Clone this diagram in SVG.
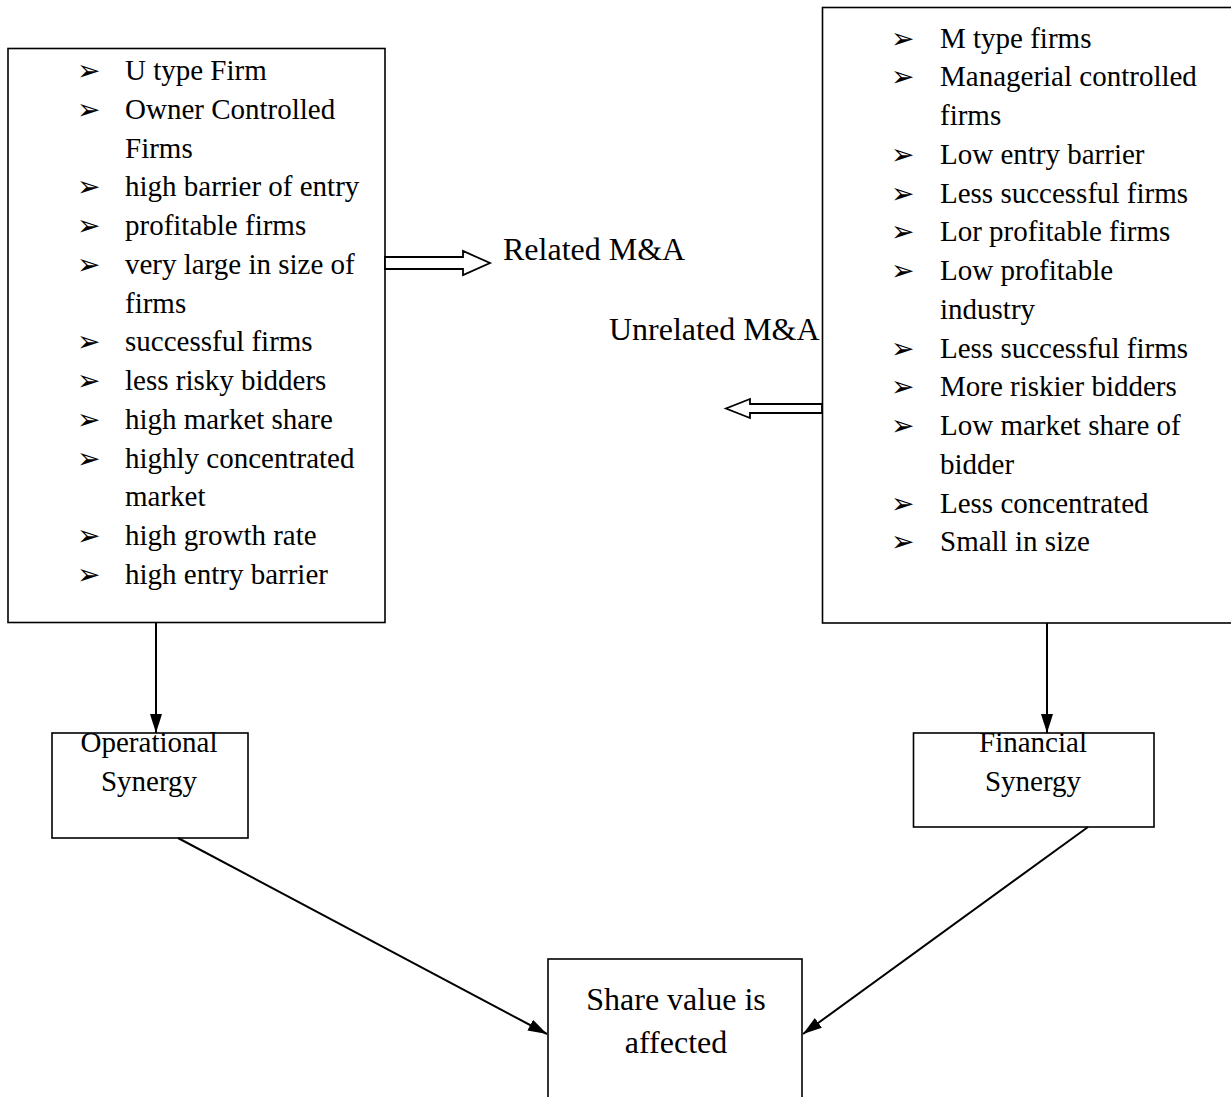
<svg xmlns="http://www.w3.org/2000/svg" width="1231" height="1097" viewBox="0 0 1231 1097">
<style>
  .box { fill: #fff; stroke: #000; stroke-width: 1.6; }
  .t { font-family: "Liberation Serif", "Times New Roman", serif; font-size: 29px; fill: #000; }
  .l { font-size: 32px; }
  .c { text-anchor: middle; }
  .b { font-family: "DejaVu Sans", sans-serif; font-size: 28px; fill: #000; }
  .conn { stroke: #000; stroke-width: 2; fill: none; }
  .hollow { fill: #fff; stroke: #000; stroke-width: 1.8; stroke-linejoin: miter; }
</style>
<defs>
  <marker id="ah" markerUnits="userSpaceOnUse" markerWidth="20" markerHeight="16" viewBox="0 0 20 16" refX="19" refY="8" orient="auto">
    <path d="M0,2 L19,8 L0,14 Z" fill="#000"/>
  </marker>
</defs>

<g id="left-box">
  <rect class="box" x="8" y="48.5" width="377" height="574"/>
  <g class="b">
    <text x="77" y="80">➢</text>
    <text x="77" y="118.75">➢</text>
    <text x="77" y="196.25">➢</text>
    <text x="77" y="235">➢</text>
    <text x="77" y="273.75">➢</text>
    <text x="77" y="351.25">➢</text>
    <text x="77" y="390">➢</text>
    <text x="77" y="428.75">➢</text>
    <text x="77" y="467.5">➢</text>
    <text x="77" y="545">➢</text>
    <text x="77" y="583.75">➢</text>
  </g>
  <g class="t">
    <text x="125" y="80">U type Firm</text>
    <text x="125" y="118.75">Owner Controlled</text>
    <text x="125" y="157.5">Firms</text>
    <text x="125" y="196.25">high barrier of entry</text>
    <text x="125" y="235">profitable firms</text>
    <text x="125" y="273.75">very large in size of</text>
    <text x="125" y="312.5">firms</text>
    <text x="125" y="351.25">successful firms</text>
    <text x="125" y="390">less risky bidders</text>
    <text x="125" y="428.75">high market share</text>
    <text x="125" y="467.5">highly concentrated</text>
    <text x="125" y="506.25">market</text>
    <text x="125" y="545">high growth rate</text>
    <text x="125" y="583.75">high entry barrier</text>
  </g>
</g>

<g id="right-box">
  <rect class="box" x="822.5" y="7.5" width="420" height="615.5"/>
  <g class="b">
    <text x="891" y="47.5">➢</text>
    <text x="891" y="86.25">➢</text>
    <text x="891" y="163.75">➢</text>
    <text x="891" y="202.5">➢</text>
    <text x="891" y="241.25">➢</text>
    <text x="891" y="280">➢</text>
    <text x="891" y="357.5">➢</text>
    <text x="891" y="396.25">➢</text>
    <text x="891" y="435">➢</text>
    <text x="891" y="512.5">➢</text>
    <text x="891" y="551.25">➢</text>
  </g>
  <g class="t">
    <text x="940" y="47.5">M type firms</text>
    <text x="940" y="86.25">Managerial controlled</text>
    <text x="940" y="125">firms</text>
    <text x="940" y="163.75">Low entry barrier</text>
    <text x="940" y="202.5">Less successful firms</text>
    <text x="940" y="241.25">Lor profitable firms</text>
    <text x="940" y="280">Low profitable</text>
    <text x="940" y="318.75">industry</text>
    <text x="940" y="357.5">Less successful firms</text>
    <text x="940" y="396.25">More riskier bidders</text>
    <text x="940" y="435">Low market share of</text>
    <text x="940" y="473.75">bidder</text>
    <text x="940" y="512.5">Less concentrated</text>
    <text x="940" y="551.25">Small in size</text>
  </g>
</g>

<g id="label-related">
  <text class="t l" x="503" y="260">Related M&amp;A</text>
</g>
<g id="label-unrelated">
  <text class="t l" x="609" y="340">Unrelated M&amp;A</text>
</g>

<g id="operational-synergy">
  <rect class="box" x="52" y="733" width="196" height="105"/>
  <text class="t c" x="149" y="752">Operational</text>
  <text class="t c" x="149" y="791">Synergy</text>
</g>

<g id="financial-synergy">
  <rect class="box" x="913.5" y="733" width="240.5" height="94"/>
  <text class="t c" x="1033" y="752">Financial</text>
  <text class="t c" x="1033" y="791">Synergy</text>
</g>

<g id="share-value">
  <rect class="box" x="548" y="959" width="254" height="160"/>
  <text class="t l c" x="676" y="1010">Share value is</text>
  <text class="t l c" x="676" y="1053">affected</text>
</g>

<g id="connectors">
  <polygon class="hollow" points="385,257 463,257 463,251 490,263 463,275 463,269 385,269"/>
  <polygon class="hollow" points="822,404 750,404 750,399 726,408.5 750,418 750,413 822,413"/>
  <line class="conn" x1="156" y1="623" x2="156" y2="733" marker-end="url(#ah)"/>
  <line class="conn" x1="1047" y1="623" x2="1047" y2="733" marker-end="url(#ah)"/>
  <line class="conn" x1="178" y1="838" x2="547" y2="1034" marker-end="url(#ah)"/>
  <line class="conn" x1="1088" y1="827" x2="803" y2="1034" marker-end="url(#ah)"/>
</g>
</svg>
